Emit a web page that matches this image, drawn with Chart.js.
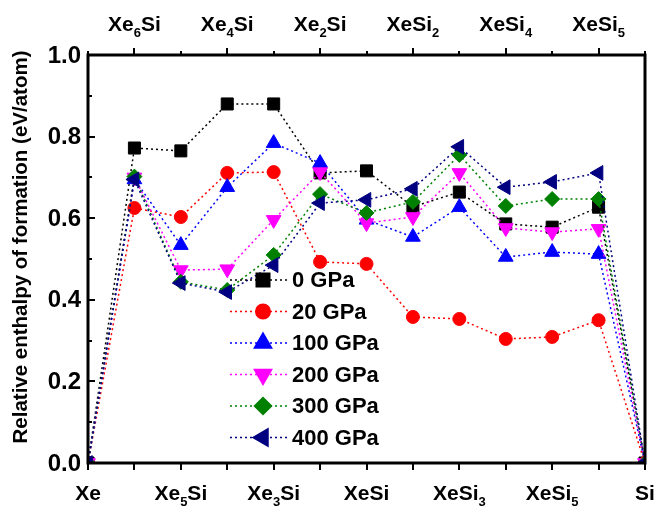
<!DOCTYPE html>
<html>
<head>
<meta charset="utf-8">
<script src="https://cdn.jsdelivr.net/npm/chart.js@4.4.1/dist/chart.umd.min.js"></script>
<style>
html, body { margin: 0; padding: 0; background: #fff; }
</style>
</head>
<body>
<canvas id="chart" width="661" height="509"></canvas>
<script>
// compositions along the x axis, "_" marks the subscript
var compounds = ['Xe', 'Xe_6Si', 'Xe_5Si', 'Xe_4Si', 'Xe_3Si', 'Xe_2Si', 'XeSi',
                 'XeSi_2', 'XeSi_3', 'XeSi_4', 'XeSi_5', 'XeSi_5', 'Si'];
var yTicks = [0, 0.2, 0.4, 0.6, 0.8, 1.0];

var gpa0   = [0, 0.772, 0.765, 0.880, 0.880, 0.711, 0.716, 0.628, 0.664, 0.586, 0.578, 0.627, 0];
var gpa20  = [0, 0.625, 0.603, 0.711, 0.713, 0.493, 0.488, 0.358, 0.353, 0.304, 0.309, 0.350, 0];
var gpa100 = [0, 0.695, 0.534, 0.676, 0.784, 0.735, 0.596, 0.554, 0.627, 0.505, 0.517, 0.512, 0];
var gpa200 = [0, 0.700, 0.473, 0.475, 0.596, 0.713, 0.588, 0.603, 0.711, 0.576, 0.566, 0.574, 0];
var gpa300 = [0, 0.702, 0.444, 0.424, 0.510, 0.659, 0.613, 0.640, 0.755, 0.630, 0.647, 0.647, 0];
var gpa400 = [0, 0.695, 0.441, 0.419, 0.485, 0.637, 0.645, 0.672, 0.775, 0.676, 0.689, 0.711, 0];

var series = [
  { name: '0 GPa',   values: gpa0,   color: '#000000', style: 'rect',     rot: 0,   r: 8.5 },
  { name: '20 GPa',  values: gpa20,  color: '#ff0000', style: 'circle',   rot: 0,   r: 6.5 },
  { name: '100 GPa', values: gpa100, color: '#0000ff', style: 'triangle', rot: 0,   r: 8.5 },
  { name: '200 GPa', values: gpa200, color: '#ff00ff', style: 'triangle', rot: 180, r: 8.5 },
  { name: '300 GPa', values: gpa300, color: '#008000', style: 'rectRot',  rot: 0,   r: 7.5 },
  { name: '400 GPa', values: gpa400, color: '#000080', style: 'triangle', rot: -90, r: 8.5 }
];

var FONT = '"Liberation Sans", Arial, sans-serif';
var yTitle = 'Relative enthalpy of formation (eV/atom)';

function drawFormula(ctx, text, x, y, size) {
  var parts = text.split('_');
  var main = parts[0], sub = '', rest = '';
  if (parts.length > 1) { sub = parts[1].charAt(0); rest = parts[1].slice(1); }
  var big = 'bold ' + size + 'px ' + FONT;
  var small = 'bold ' + Math.round(size * 0.62) + 'px ' + FONT;
  ctx.font = big;
  var w1 = ctx.measureText(main).width, w3 = ctx.measureText(rest).width;
  ctx.font = small;
  var w2 = ctx.measureText(sub).width;
  var sx = x - (w1 + w2 + w3) / 2;
  ctx.textAlign = 'left';
  ctx.textBaseline = 'alphabetic';
  ctx.font = big;
  ctx.fillText(main, sx, y);
  ctx.font = small;
  ctx.fillText(sub, sx + w1, y + size * 0.3);
  ctx.font = big;
  ctx.fillText(rest, sx + w1 + w2, y);
}

var framePlugin = {
  id: 'frame',
  afterDatasetsDraw: function (chart) {
    var ctx = chart.ctx, a = chart.chartArea;
    var xs = chart.scales.x, ys = chart.scales.y;
    ctx.save();
    ctx.fillStyle = '#000';
    ctx.strokeStyle = '#000';

    // ticks
    ctx.lineWidth = 2;
    ctx.beginPath();
    compounds.forEach(function (c, i) {
      var px = Math.round(xs.getPixelForValue(i));
      ctx.moveTo(px, a.bottom); ctx.lineTo(px, a.bottom + 7);
      ctx.moveTo(px, a.top); ctx.lineTo(px, a.top - (i % 2 ? 7 : 4));
    });
    for (var k = 0; k <= 10; k++) {
      var py = Math.round(ys.getPixelForValue(k / 10));
      ctx.moveTo(a.left, py); ctx.lineTo(a.left + (k % 2 ? 4 : 7), py);
    }
    ctx.stroke();

    // frame
    ctx.lineWidth = 3;
    ctx.strokeRect(a.left, a.top, a.right - a.left, a.bottom - a.top);

    // y tick labels
    ctx.font = 'bold 24px ' + FONT;
    ctx.textAlign = 'right';
    ctx.textBaseline = 'middle';
    yTicks.forEach(function (v) {
      ctx.fillText(v.toFixed(1), a.left - 7, ys.getPixelForValue(v) + 1);
    });

    // y title
    ctx.save();
    ctx.translate(21, 247);
    ctx.rotate(-Math.PI / 2);
    ctx.font = 'bold 20.5px ' + FONT;
    ctx.textAlign = 'center';
    ctx.fillText(yTitle, 0, 0);
    ctx.restore();

    // x labels: even positions below, odd positions above
    compounds.forEach(function (c, i) {
      var px = xs.getPixelForValue(i);
      if (i % 2 === 0) drawFormula(ctx, c, px, a.bottom + 37, 21);
      else drawFormula(ctx, c, px, a.top - 24, 21);
    });

    // legend inside plot
    series.forEach(function (s, i) {
      var ly = a.top + 225 + i * 31.5;
      var lx = a.left + 175;
      ctx.save();
      ctx.strokeStyle = s.color;
      ctx.lineWidth = 1.5;
      ctx.setLineDash([2, 3]);
      ctx.beginPath();
      ctx.moveTo(lx - 33, ly); ctx.lineTo(lx + 27, ly);
      ctx.stroke();
      ctx.restore();
      ctx.fillStyle = s.color;
      ctx.strokeStyle = s.color;
      Chart.helpers.drawPoint(ctx, { pointStyle: s.style, rotation: s.rot, radius: s.r, borderWidth: 1 }, lx, ly);
      ctx.fillStyle = '#000';
      ctx.font = 'bold 22px ' + FONT;
      ctx.textAlign = 'left';
      ctx.textBaseline = 'middle';
      ctx.fillText(s.name, lx + 29, ly + 1);
    });
    ctx.restore();
  }
};

var datasets = series.map(function (s, i) {
  return {
    label: s.name,
    data: s.values.map(function (v, j) { return { x: j, y: v }; }),
    borderColor: s.color,
    backgroundColor: s.color,
    borderWidth: 1.5,
    borderDash: [2, 3],
    pointStyle: s.style,
    pointRotation: s.rot,
    pointRadius: s.r,
    pointBorderWidth: 1,
    pointHoverRadius: s.r,
    order: series.length - i,
    tension: 0
  };
});

new Chart(document.getElementById('chart'), {
  type: 'line',
  data: { datasets: datasets },
  options: {
    responsive: false,
    animation: false,
    layout: { padding: { left: 0, right: 16, top: 0, bottom: 0 } },
    plugins: { legend: { display: false }, tooltip: { enabled: false } },
    scales: {
      x: {
        type: 'linear', position: 'bottom', min: 0, max: 12,
        ticks: { display: false }, grid: { display: false }, border: { display: false },
        afterFit: function (s) { s.height = 46; }
      },
      x2: {
        type: 'linear', position: 'top', min: 0, max: 12,
        ticks: { display: false }, grid: { display: false }, border: { display: false },
        afterFit: function (s) { s.height = 55; }
      },
      y: {
        min: 0, max: 1,
        ticks: { display: false }, grid: { display: false }, border: { display: false },
        afterFit: function (s) { s.width = 88; }
      }
    }
  },
  plugins: [framePlugin]
});
</script>
</body>
</html>
